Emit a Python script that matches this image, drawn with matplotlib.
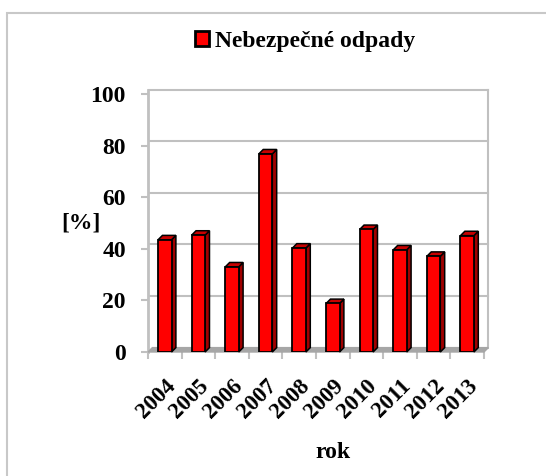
import matplotlib.pyplot as plt
import numpy as np
from matplotlib.patches import Polygon, Rectangle

years = ["2004", "2005", "2006", "2007", "2008", "2009", "2010", "2011", "2012", "2013"]
values = [43.5, 45.3, 33.0, 76.8, 40.3, 18.8, 47.5, 39.6, 37.1, 45.1]
yticks = [0, 20, 40, 60, 80, 100]

series_name = "Nebezpečné odpady"
x_title = "rok"
y_title = "[%]"

plt.rcParams["font.family"] = ["Liberation Serif", "DejaVu Serif"]
plt.rcParams["font.weight"] = "bold"

RED = "#FF0000"
RED_TOP = "#C80000"
RED_SIDE = "#A00000"
GRID = "#C0C0C0"
BAR_W = 0.4
DX, DY = 0.13, 1.7  # 3D depth in data units

fig = plt.figure(figsize=(5.46, 4.76), dpi=100)
ax = fig.add_axes([148 / 546, 1 - 352 / 476, 336 / 546, 258 / 476])
ax.set_xlim(-0.5, len(years) - 0.5)
ax.set_ylim(0, 100)

# outer chart border
fig.patches.append(Rectangle((7 / 546, -0.1), 1.2, 1.1 - 13 / 476, transform=fig.transFigure,
                             fill=False, edgecolor="#C8C8C8", linewidth=1.5, zorder=0))

x0, x1 = -0.5, len(years) - 0.5
# back wall grid
for v in yticks[1:]:
    ax.plot([x0 + DX * 0.3, x1 + DX], [v + DY, v + DY], color=GRID, linewidth=1.5, zorder=1, clip_on=False)
ax.plot([x1 + DX, x1 + DX], [DY, 100 + DY], color=GRID, linewidth=1.5, zorder=1, clip_on=False)
ax.plot([x0, x0], [0, 100 + DY], color=GRID, linewidth=2, zorder=1, clip_on=False)

# floor
ax.add_patch(Polygon([(x0, 0), (x1, 0), (x1 + DX, DY), (x0 + DX, DY)], closed=True,
                     facecolor="#A6A6A6", edgecolor="#A6A6A6", zorder=2, clip_on=False))

# bars
xs = np.arange(len(years))
bars = ax.bar(xs, values, width=BAR_W, color=RED, edgecolor="black", linewidth=1.3, zorder=4)
for b, v in zip(bars, values):
    l = b.get_x()
    r = l + b.get_width()
    ax.add_patch(Polygon([(r, 0), (r + DX, DY), (r + DX, v + DY), (r, v)], closed=True,
                         facecolor=RED_SIDE, edgecolor="black", linewidth=1.1, zorder=3, clip_on=False))
    ax.add_patch(Polygon([(l, v), (r, v), (r + DX, v + DY), (l + DX, v + DY)], closed=True,
                         facecolor=RED_TOP, edgecolor="black", linewidth=1.1, zorder=3, clip_on=False))

for s in ax.spines.values():
    s.set_visible(False)

ax.set_yticks(yticks)
ax.set_yticklabels([str(t) for t in yticks], fontsize=17, fontweight="bold")
ax.tick_params(axis="y", length=5, width=1.5, color=GRID, pad=11)

ax.set_xticks(xs)
ax.set_xticklabels(years, rotation=45, ha="right", va="top", rotation_mode="anchor",
                   fontsize=16.5, fontweight="bold")
ax.tick_params(axis="x", length=0, pad=17)
ax.set_xticks(np.arange(len(years) + 1) - 0.5, minor=True)
ax.tick_params(axis="x", which="minor", length=5, width=1.5, color=GRID)

ax.set_xlabel(x_title, fontsize=17, fontweight="bold")
ax.xaxis.set_label_coords(0.55, -0.35)
ax.set_ylabel(y_title, fontsize=17, fontweight="bold", rotation=0, ha="center", va="center")
ax.yaxis.set_label_coords(-0.2, 0.5)

handle = Rectangle((0, 0), 1, 1, facecolor=RED, edgecolor="black", linewidth=2)
fig.legend([handle], [series_name], loc="center", bbox_to_anchor=(305 / 546, 1 - 41 / 476),
           frameon=False, handlelength=0.6, handleheight=0.6, handletextpad=0.25,
           prop={"size": 17, "weight": "bold"})

fig.savefig("out.png", dpi=100)
